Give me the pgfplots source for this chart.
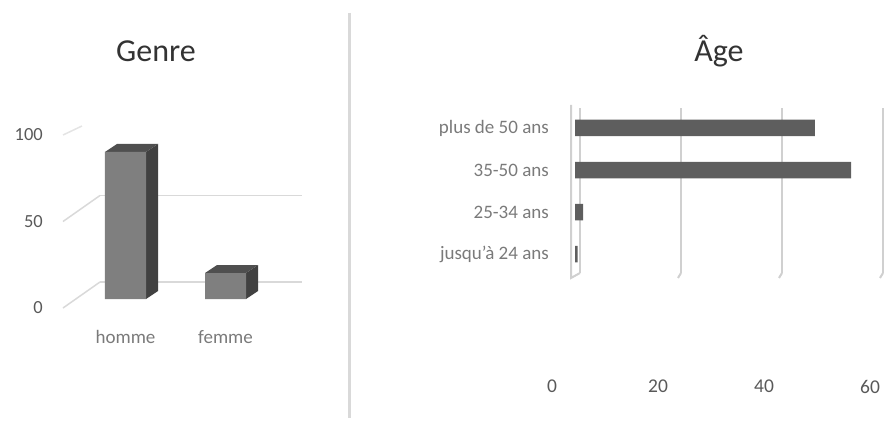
\documentclass[border=0pt]{standalone}
\usepackage{fontspec}
\setmainfont{Carlito}
\usepackage{pgfplots}
\pgfplotsset{compat=1.18}
\definecolor{gridc}{HTML}{D9D9D9}
\definecolor{gridr}{HTML}{D0D0D0}
\definecolor{ticktxt}{HTML}{595959}
\definecolor{cattxt}{HTML}{7A7A7A}
\definecolor{titletxt}{HTML}{333333}
\definecolor{frontc}{HTML}{7F7F7F}
\definecolor{topc}{HTML}{4F4F4F}
\definecolor{sidec}{HTML}{414141}
\definecolor{hbar}{HTML}{5E5E5E}
\begin{document}
\begin{tikzpicture}[x=1pt,y=1pt]
\path[use as bounding box] (0pt,0pt) rectangle (887pt,421pt);
\draw[gridc, line width=3pt] (349pt,408pt) -- (349pt,3pt);
\node[text=titletxt, font=\fontsize{32}{36}\selectfont, anchor=base, inner sep=0pt] at (156pt,359pt) {Genre};
\node[text=titletxt, font=\fontsize{32}{36}\selectfont, anchor=base, inner sep=0pt] at (719pt,359pt) {Âge};

% ---------- Genre (3D column chart) ----------
\begin{axis}[
  at={(76pt,122pt)}, anchor=south west, scale only axis,
  width=202pt, height=173pt,
  xmin=0.505, xmax=2.525, ymin=0, ymax=100,
  axis line style={draw=none}, major tick length=0pt,
  xtick={1,2}, xticklabels={homme,femme}, ytick={0,50,100},
  /pgf/number format/assume math mode=true,
  yticklabel style={font=\fontsize{18.5}{20}\selectfont, text=ticktxt, inner sep=0pt, anchor=east, xshift=-33pt, yshift=-9pt},
  xticklabel style={font=\fontsize{19}{21}\selectfont, text=cattxt, inner sep=0pt, anchor=north, yshift=-31pt},
  clip=false,
]
% back-wall gridlines and floor diagonals
\addplot[gridc, line width=1.5pt, shift={(24pt,17pt)}] coordinates {(0.505,0) (2.525,0)};
\addplot[gridc, line width=1.5pt, shift={(24pt,17pt)}] coordinates {(0.505,50) (2.525,50)};
\draw[gridc, line width=1.5pt] ([shift={(-13pt,-9pt)}]axis cs:0.505,0) -- ([shift={(24pt,17pt)}]axis cs:0.505,0);
\draw[gridc, line width=1.5pt] ([shift={(-13pt,-9pt)}]axis cs:0.505,50) -- ([shift={(24pt,17pt)}]axis cs:0.505,50);
\draw[gridc!70, line width=1.5pt] ([shift={(-13pt,-9pt)}]axis cs:0.505,100) -- ([shift={(6pt,0pt)}]axis cs:0.505,100);
% bars: side and top faces (depth 0.12 x 4.62)
\addplot[fill=sidec, draw=none] coordinates {(1.205,0) (1.325,4.62) (1.325,89.62) (1.205,85)} -- cycle;
\addplot[fill=topc, draw=none] coordinates {(0.795,85) (1.205,85) (1.325,89.62) (0.915,89.62)} -- cycle;
\addplot[fill=sidec, draw=none] coordinates {(2.205,0) (2.325,4.62) (2.325,19.62) (2.205,15)} -- cycle;
\addplot[fill=topc, draw=none] coordinates {(1.795,15) (2.205,15) (2.325,19.62) (1.915,19.62)} -- cycle;
% front faces
\addplot[ybar, bar width=41pt, fill=frontc, draw=none] coordinates {(1,85) (2,15)};
\end{axis}

% ---------- Âge (horizontal bars) ----------
\begin{axis}[
  at={(575pt,148pt)}, anchor=south west, scale only axis,
  width=303pt, height=165pt,
  xmin=0, xmax=60, ymin=0.548, ymax=4.476,
  axis line style={draw=none}, major tick length=0pt,
  xtick={0,20,40,60}, xticklabels={,,,},
  xmajorgrids, grid style={gridr, line width=2pt, xshift=5pt},
  ytick={1,2,3,4},
  yticklabels={jusqu’à 24 ans,25-34 ans,35-50 ans,plus de 50 ans},
  yticklabel style={font=\fontsize{19}{21}\selectfont, text=cattxt, inner sep=0pt, anchor=east, xshift=-26pt},
  clip=false,
]
\draw[gridr, line width=2pt] ([xshift=-4pt,yshift=3pt]axis cs:0,4.476) -- ([xshift=-4pt,yshift=-5pt]axis cs:0,0.548) -- ([xshift=5pt]axis cs:0,0.548);
\draw[gridr, line width=2pt] ([xshift=5pt]axis cs:20,0.548) -- ([xshift=2pt,yshift=-5pt]axis cs:20,0.548);
\draw[gridr, line width=2pt] ([xshift=5pt]axis cs:40,0.548) -- ([xshift=2pt,yshift=-5pt]axis cs:40,0.548);
\draw[gridr, line width=2pt] ([xshift=5pt]axis cs:60,0.548) -- ([xshift=2pt,yshift=-5pt]axis cs:60,0.548);
\addplot[xbar, bar width=16.5pt, fill=hbar, draw=none] coordinates {(0.5,1) (1.6,2) (54.7,3) (47.5,4)};
\end{axis}

% value labels for the Âge axis (set in perspective, wider spacing)
\begin{axis}[
  at={(552pt,41pt)}, anchor=south west, scale only axis,
  width=318pt, height=10pt,
  xmin=0, xmax=60, ymin=0, ymax=1,
  axis line style={draw=none}, major tick length=0pt,
  xtick={0,20,40,60}, ytick=\empty,
  /pgf/number format/assume math mode=true,
  xticklabel style={font=\fontsize{19.5}{21}\selectfont, text=ticktxt, inner sep=0pt, anchor=north},
]
\addplot[draw=none] coordinates {(0,0.5)};
\end{axis}
\end{tikzpicture}
\end{document}
